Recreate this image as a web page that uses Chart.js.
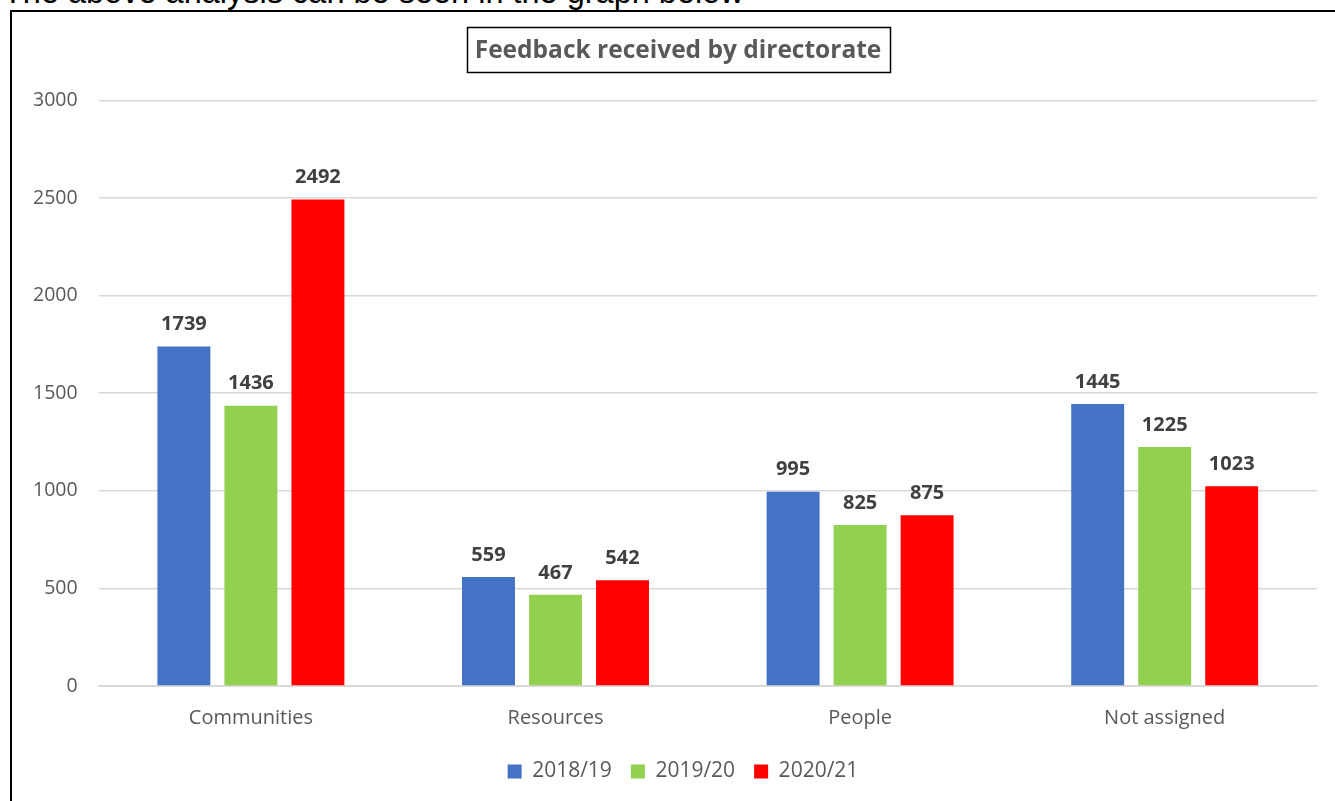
<!DOCTYPE html>
<html lang="en">
  <head>
    <meta charset="UTF-8" />
    <title>Feedback received by directorate</title>
    <style>
      html,
      body {
        margin: 0;
        padding: 0;
        background: #fff;
        overflow: hidden;
      }
      #intro {
        position: absolute;
        left: 3px;
        top: -26px;
        font-family: "Liberation Sans", Arial, sans-serif;
        font-size: 32.5px;
        color: #000;
        white-space: nowrap;
      }
      #frame {
        position: absolute;
        left: 10px;
        top: 10px;
        width: 1340px;
        height: 800px;
        border: 2px solid #000;
        box-sizing: border-box;
        background: #fff;
      }
      #wrap {
        position: absolute;
        left: 12px;
        top: 12px;
        width: 1323px;
        height: 789px;
      }
    </style>
  </head>
  <body>
    <div id="intro">The above analysis can be seen in the graph below</div>
    <div id="frame"></div>
    <div id="wrap"><canvas id="chart"></canvas></div>

    <script src="https://cdn.jsdelivr.net/npm/chart.js@4.4.1/dist/chart.umd.min.js"></script>
    <script>
      const categories = ["Communities", "Resources", "People", "Not assigned"];
      const years = ["2018/19", "2019/20", "2020/21"];
      const fy1819 = [1739, 559, 995, 1445];
      const fy1920 = [1436, 467, 825, 1225];
      const fy2021 = [2492, 542, 875, 1023];
      const colours = ["#4472C4", "#92D050", "#FF0000"];
      const yTicks = [0, 500, 1000, 1500, 2000, 2500, 3000];

      const FONT = "'Open Sans', sans-serif";
      const GREY = "#595959";
      const TITLE_SIZE = 24.5;

      // nudge title and legend a little right of the full-width centre
      const centreNudge = {
        id: "centreNudge",
        afterLayout(chart) {
          const tb = chart.titleBlock;
          tb.left += 13.5;
          tb.right += 13.5;
          const lg = chart.legend;
          lg.left += 18.5;
          lg.right += 18.5;
        },
      };

      // value labels above each bar
      const valueLabels = {
        id: "valueLabels",
        afterDatasetsDraw(chart) {
          const ctx = chart.ctx;
          ctx.save();
          ctx.font = "bold 20px " + FONT;
          ctx.fillStyle = "#404040";
          ctx.textAlign = "center";
          ctx.textBaseline = "middle";
          chart.data.datasets.forEach((ds, i) => {
            chart.getDatasetMeta(i).data.forEach((bar, j) => {
              ctx.fillText(ds.data[j], bar.x, bar.y - 22);
            });
          });
          ctx.restore();
        },
      };

      // thin box round the title text
      const titleBox = {
        id: "titleBox",
        afterDraw(chart) {
          const ctx = chart.ctx;
          const t = chart.options.plugins.title;
          const tb = chart.titleBlock;
          ctx.save();
          ctx.font = "bold " + TITLE_SIZE + "px " + FONT;
          const w = ctx.measureText(t.text).width;
          const cx = (tb.left + tb.right) / 2;
          ctx.strokeStyle = "#000";
          ctx.lineWidth = 1.5;
          ctx.strokeRect(Math.round(cx - w / 2 - 8) + 0.5, 15.5, Math.round(w + 16), 45);
          ctx.restore();
        },
      };

      new Chart(document.getElementById("chart"), {
        type: "bar",
        data: {
          labels: categories,
          datasets: [
            { label: years[0], data: fy1819, backgroundColor: colours[0] },
            { label: years[1], data: fy1920, backgroundColor: colours[1] },
            { label: years[2], data: fy2021, backgroundColor: colours[2] },
          ],
        },
        options: {
          responsive: true,
          maintainAspectRatio: false,
          animation: false,
          events: [],
          layout: { padding: { left: 0, right: 18, top: 4, bottom: 9 } },
          datasets: {
            bar: { categoryPercentage: 0.66, barPercentage: 0.79 },
          },
          scales: {
            x: {
              grid: { display: false },
              border: { color: "#d9d9d9", width: 2 },
              ticks: {
                color: GREY,
                font: { family: FONT, size: 20 },
                padding: 12,
              },
            },
            y: {
              min: 0,
              max: 3000,
              afterBuildTicks(axis) {
                axis.ticks = yTicks.map((v) => ({ value: v }));
              },
              grid: { color: "#d9d9d9", lineWidth: 1.5, drawTicks: false },
              border: { display: false },
              ticks: {
                color: GREY,
                font: { family: FONT, size: 19.5 },
                padding: 21,
                callback: (v) => String(v),
              },
            },
          },
          plugins: {
            tooltip: { enabled: false },
            title: {
              display: true,
              text: "Feedback received by directorate",
              color: GREY,
              font: { family: FONT, size: TITLE_SIZE, weight: "bold" },
              padding: { top: 20, bottom: 35 },
            },
            legend: {
              position: "bottom",
              labels: {
                color: GREY,
                font: { family: FONT, size: 21 },
                boxWidth: 14,
                boxHeight: 14,
                padding: 19,
              },
            },
          },
        },
        plugins: [centreNudge, valueLabels, titleBox],
      });
    </script>
  </body>
</html>
